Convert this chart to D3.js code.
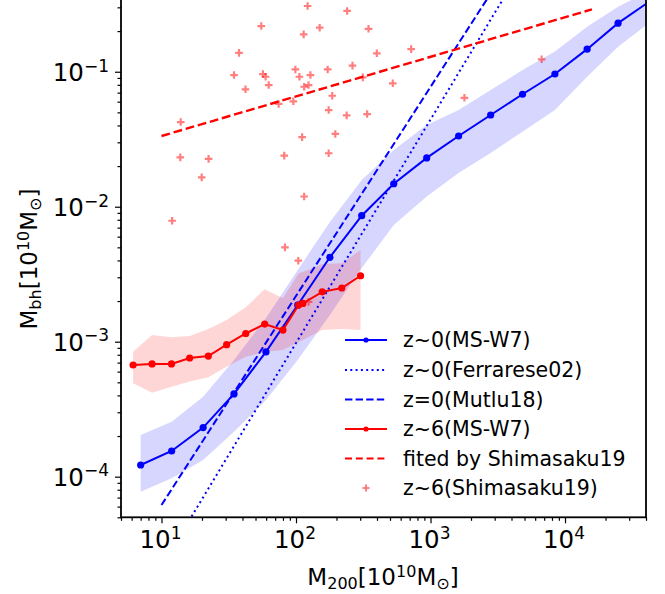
<!DOCTYPE html>
<html>
<head>
<meta charset="utf-8">
<script src="https://cdn.jsdelivr.net/npm/d3@7"></script>
<style>
body { margin: 0; background: #fff; }
svg { display: block; font-family: "DejaVu Sans", sans-serif; }
</style>
</head>
<body>
<svg id="canvas" width="665" height="594"></svg>
<script>
// z~0 (MS-W7) median and scatter band
var z0Mass = [7.0, 11.9, 20.4, 34.6, 59.8, 103, 178.6, 308, 533, 937, 1618, 2800, 4830, 8410, 14600, 24800, 42900];
var z0Mbh  = [1.22e-4, 1.55e-4, 2.31e-4, 4.10e-4, 8.40e-4, 1.87e-3, 4.22e-3, 8.58e-3, 1.48e-2, 2.30e-2, 3.34e-2, 4.78e-2, 6.81e-2, 9.62e-2, 0.147, 0.229, 0.334];
var z0Hi   = [2.04e-4, 2.55e-4, 3.91e-4, 7.32e-4, 1.50e-3, 3.40e-3, 7.70e-3, 1.58e-2, 2.63e-2, 4.03e-2, 5.20e-2, 7.31e-2, 0.103, 0.141, 0.215, 0.303, 0.40];
var z0Lo   = [7.74e-5, 9.73e-5, 1.33e-4, 2.15e-4, 3.70e-4, 7.32e-4, 1.58e-3, 3.51e-3, 7.31e-3, 1.19e-2, 1.78e-2, 2.50e-2, 3.60e-2, 5.20e-2, 9.18e-2, 0.153, 0.233];

// z~6 (MS-W7)
var z6Mass = [6.15, 8.51, 11.87, 16.2, 22.3, 30.5, 42.3, 58.5, 80.0, 104.5, 112.5, 156.7, 219, 302];
var z6Mbh  = [6.72e-4, 6.84e-4, 6.84e-4, 7.57e-4, 7.83e-4, 9.50e-4, 1.15e-3, 1.35e-3, 1.22e-3, 1.87e-3, 1.92e-3, 2.34e-3, 2.50e-3, 3.08e-3];
var z6Hi   = [8.43e-4, 1.12e-3, 1.08e-3, 1.10e-3, 1.24e-3, 1.45e-3, 1.80e-3, 2.45e-3, 2.10e-3, 3.21e-3, 3.28e-3, 3.76e-3, 3.81e-3, 4.78e-3];
var z6Lo   = [4.92e-4, 4.19e-4, 4.64e-4, 5.06e-4, 5.45e-4, 6.53e-4, 7.74e-4, 8.39e-4, 8.68e-4, 9.96e-4, 1.03e-3, 1.22e-3, 1.24e-3, 1.22e-3];

// power-law relations
var ferrMass = [10, 10000];
var ferrMbh  = [2.16e-5, 2.0];
var mutluMass = [10, 10000];
var mutluMbh  = [6.16e-5, 2.73];
var shimaFitMass = [10, 15850];
var shimaFitMbh  = [0.0334, 0.29];

// z~6 (Shimasaku19) observations
var shimaMass = [122, 240, 55.2, 150, 114, 346, 37.7, 399, 263, 98.9, 172, 34.6, 56.8, 59.4, 106, 128, 314,
                 42.1, 62.7, 115, 124, 186, 74.3, 95.5, 175, 238, 338, 13.9, 111, 196, 13.8, 22.4, 81.8, 175,
                 19.9, 115, 12.0, 82.8, 104, 124, 718, 524, 1786, 6700];
var shimaMbh  = [0.307, 0.282, 0.218, 0.212, 0.189, 0.208, 0.138, 0.137, 0.111, 0.104, 0.104, 0.0945, 0.0961, 0.0918, 0.0918, 0.0945, 0.0909,
                 0.0741, 0.0797, 0.0774, 0.0797, 0.0664, 0.0577, 0.0604, 0.0520, 0.0475, 0.0486, 0.0424, 0.0328, 0.0346, 0.0232, 0.0226, 0.0239, 0.0249,
                 0.0165, 0.0119, 0.00787, 0.00500, 0.00398, 0.00197, 0.147, 0.0821, 0.0641, 0.1236];

var xMajor = [10, 100, 1000, 10000];
var yMajor = [1e-4, 1e-3, 1e-2, 1e-1];
var xExp = ["1", "2", "3", "4"];
var yExp = ["\u22124", "\u22123", "\u22122", "\u22121"];

var legendLabels = ["z~0(MS-W7)", "z~0(Ferrarese02)", "z=0(Mutlu18)", "z~6(MS-W7)", "fited by Shimasaku19", "z~6(Shimasaku19)"];

var BLUE = "#0000ff", RED = "#ff0000";

var svg = d3.select("#canvas");
var padL = 121, padR = 646, padT = 0, padB = 517.3;

var x = d3.scaleLog().domain([5, 40000]).range([padL, padR]);
var y = d3.scaleLog().domain([5e-5, 0.34]).range([padB, padT]);

svg.append("defs").append("clipPath").attr("id", "clip")
    .append("rect").attr("x", padL).attr("y", padT - 5).attr("width", padR - padL).attr("height", padB - padT + 5);

var plot = svg.append("g").attr("clip-path", "url(#clip)");

function zip(xs, ys) { return xs.map(function(v, i) { return [v, ys[i]]; }); }
function band(xs, lo, hi) { return xs.map(function(v, i) { return [v, lo[i], hi[i]]; }); }

var line = d3.line().x(function(d) { return x(d[0]); }).y(function(d) { return y(d[1]); });
var area = d3.area()
    .x(function(d) { return x(d[0]); })
    .y0(function(d) { return y(d[1]); })
    .y1(function(d) { return y(d[2]); });

// bands
plot.append("path").datum(band(z0Mass, z0Lo, z0Hi))
    .attr("d", area).attr("fill", BLUE).attr("fill-opacity", 0.16);
plot.append("path").datum(band(z6Mass, z6Lo, z6Hi))
    .attr("d", area).attr("fill", RED).attr("fill-opacity", 0.16);

// relations
plot.append("path").datum(zip(ferrMass, ferrMbh)).attr("d", line)
    .attr("fill", "none").attr("stroke", BLUE).attr("stroke-width", 2).attr("stroke-dasharray", "2,3.3");
plot.append("path").datum(zip(mutluMass, mutluMbh)).attr("d", line)
    .attr("fill", "none").attr("stroke", BLUE).attr("stroke-width", 2).attr("stroke-dasharray", "7.4,3.2");

// medians
function medianLine(xs, ys, col) {
    var data = zip(xs, ys);
    plot.append("path").datum(data).attr("d", line)
        .attr("fill", "none").attr("stroke", col).attr("stroke-width", 2);
    plot.selectAll(null).data(data).enter().append("circle")
        .attr("cx", function(d) { return x(d[0]); })
        .attr("cy", function(d) { return y(d[1]); })
        .attr("r", 3.6).attr("fill", col);
}
medianLine(z0Mass, z0Mbh, BLUE);
medianLine(z6Mass, z6Mbh, RED);

plot.append("path").datum(zip(shimaFitMass, shimaFitMbh)).attr("d", line)
    .attr("fill", "none").attr("stroke", RED).attr("stroke-width", 2.4).attr("stroke-dasharray", "8.8,3.8");

// Shimasaku19 points
plot.selectAll(null).data(zip(shimaMass, shimaMbh)).enter().append("path")
    .attr("d", function(d) {
        var cx = x(d[0]), cy = y(d[1]), s = 3.8;
        return "M" + (cx - s) + "," + cy + "H" + (cx + s) + "M" + cx + "," + (cy - s) + "V" + (cy + s);
    })
    .attr("stroke", RED).attr("stroke-opacity", 0.5).attr("stroke-width", 2.2).attr("fill", "none");

// axes
function minorTicks(lo, hi) {
    var out = [];
    for (var e = Math.floor(Math.log10(lo)); e <= Math.ceil(Math.log10(hi)); e++) {
        for (var k = 2; k <= 9; k++) {
            var v = k * Math.pow(10, e);
            if (v >= lo && v <= hi) out.push(v);
        }
    }
    return out;
}

var axes = svg.append("g");
function drawAxis(g, axis) {
    g.call(axis);
    g.select(".domain").remove();
    g.selectAll(".tick line").attr("stroke", "#000").attr("stroke-width", 1.2);
}

drawAxis(axes.append("g").attr("transform", "translate(" + padL + ",0)"),
    d3.axisLeft(y).tickValues(yMajor).tickSize(6).tickFormat(""));
drawAxis(axes.append("g").attr("transform", "translate(" + padL + ",0)"),
    d3.axisLeft(y).tickValues(minorTicks(5e-5, 0.34)).tickSize(3.5).tickFormat(""));
drawAxis(axes.append("g").attr("transform", "translate(0," + padB + ")"),
    d3.axisBottom(x).tickValues(xMajor).tickSize(6).tickFormat(""));
drawAxis(axes.append("g").attr("transform", "translate(0," + padB + ")"),
    d3.axisBottom(x).tickValues(minorTicks(5, 40000)).tickSize(3.5).tickFormat(""));

// spines
axes.append("rect").attr("x", padL).attr("y", padT - 3).attr("width", padR - padL).attr("height", padB - padT + 3)
    .attr("fill", "none").attr("stroke", "#000").attr("stroke-width", 1.8);

// tick labels
yMajor.forEach(function(v, i) {
    var t = axes.append("text").attr("x", 109).attr("y", y(v) + 9.3)
        .attr("text-anchor", "end").attr("font-size", 24.5).attr("fill", "#000");
    t.append("tspan").text("10");
    t.append("tspan").attr("dy", -9.5).attr("font-size", 17).text(yExp[i]);
});
xMajor.forEach(function(v, i) {
    var t = axes.append("text").attr("x", x(v) - 1).attr("y", 548.3)
        .attr("text-anchor", "middle").attr("font-size", 24.5).attr("fill", "#000");
    t.append("tspan").text("10");
    t.append("tspan").attr("dy", -9.5).attr("font-size", 17).text(xExp[i]);
});

// axis labels
function massLabel(t, sub) {
    t.append("tspan").text("M");
    t.append("tspan").attr("dy", 4).attr("font-size", 16).text(sub);
    t.append("tspan").attr("dy", -4).text("[10");
    t.append("tspan").attr("dy", -8.5).attr("font-size", 16).text("10");
    t.append("tspan").attr("dy", 8.5).text("M");
    t.append("tspan").attr("dy", 4).attr("font-size", 16).text("\u2299");
    t.append("tspan").attr("dy", -4).text("]");
}
massLabel(svg.append("text").attr("x", 383).attr("y", 585).attr("text-anchor", "middle")
    .attr("font-size", 23).attr("fill", "#000"), "200");
massLabel(svg.append("text").attr("transform", "translate(37,259) rotate(-90)").attr("text-anchor", "middle")
    .attr("font-size", 23).attr("fill", "#000"), "bh");

// legend
var legY = [340, 370, 399.5, 429, 458.5, 488];
var leg = svg.append("g");
legendLabels.forEach(function(lab, i) {
    var yy = legY[i];
    var col = i < 3 ? BLUE : RED;
    if (i === 5) {
        leg.append("path").attr("d", "M362.5," + yy + "H369.5M366," + (yy - 3.5) + "V" + (yy + 3.5))
            .attr("stroke", RED).attr("stroke-opacity", 0.5).attr("stroke-width", 2);
    } else {
        var dash = [null, "2,3.3", "7.4,3.2", null, "7,3.8"][i];
        leg.append("line").attr("x1", 345).attr("x2", 387).attr("y1", yy).attr("y2", yy)
            .attr("stroke", col).attr("stroke-width", 2).attr("stroke-dasharray", dash);
        if (i === 0 || i === 3) {
            leg.append("circle").attr("cx", 366).attr("cy", yy).attr("r", 2.6).attr("fill", col);
        }
    }
    leg.append("text").attr("x", 403).attr("y", yy + 7.4).attr("font-size", 20.5).attr("fill", "#000").text(lab);
});
</script>
</body>
</html>
